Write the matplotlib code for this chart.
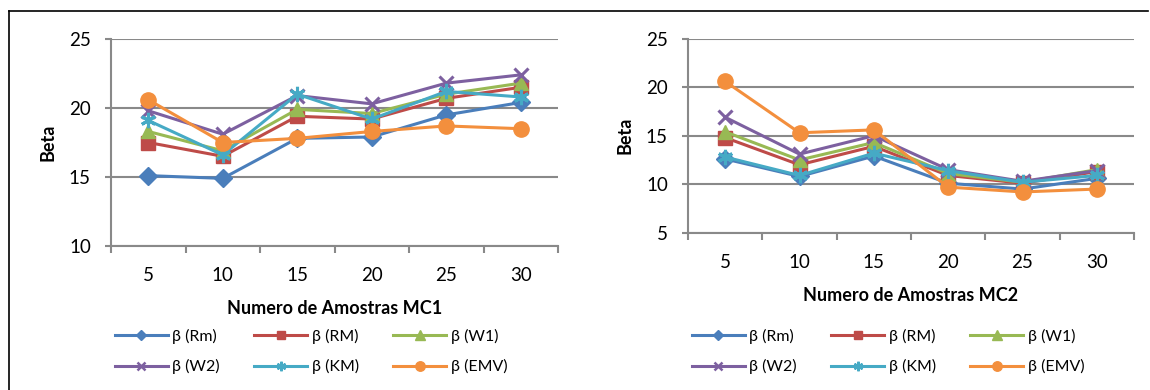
import matplotlib.pyplot as plt
from matplotlib.lines import Line2D

plt.rcParams['font.family'] = ['Lato', 'DejaVu Sans']

amostras = [5, 10, 15, 20, 25, 30]
rotulos = ['β (Rm)', 'β (RM)', 'β (W1)', 'β (W2)', 'β (KM)', 'β (EMV)']

# MC1
rm_mc1 = [15.1, 14.9, 17.8, 17.9, 19.5, 20.4]
RM_mc1 = [17.5, 16.5, 19.4, 19.2, 20.7, 21.5]
w1_mc1 = [18.3, 16.9, 19.9, 19.6, 21.0, 21.8]
w2_mc1 = [19.8, 18.1, 20.9, 20.3, 21.8, 22.4]
km_mc1 = [19.1, 16.6, 21.0, 19.2, 21.2, 20.8]
emv_mc1 = [20.6, 17.5, 17.8, 18.3, 18.7, 18.5]

# MC2
rm_mc2 = [12.6, 10.8, 12.9, 10.1, 9.5, 10.6]
RM_mc2 = [14.8, 12.0, 13.9, 10.9, 10.1, 11.3]
w1_mc2 = [15.4, 12.5, 14.3, 11.1, 10.2, 11.5]
w2_mc2 = [16.9, 13.1, 15.0, 11.5, 10.3, 11.4]
km_mc2 = [12.8, 10.9, 13.2, 11.4, 10.2, 10.9]
emv_mc2 = [20.6, 15.3, 15.6, 9.7, 9.2, 9.5]

cores = ['#4A7EBB', '#BE4B48', '#98B954', '#7D60A0', '#46AAC5', '#F38F3D']
marcadores = ['D', 's', '^', 'x', (6, 2, 0), 'o']
tamanhos = [9, 9.5, 10.5, 10, 11, 11]

W, H = 1150, 390
fig = plt.figure(figsize=(W / 100, H / 100), dpi=100)

grade = '#898989'


def painel(ax, series, ylim, yticks, xlabel):
    pos = list(range(len(amostras)))
    for s, cor, m, ms in zip(series, cores, marcadores, tamanhos):
        ax.plot(pos, s, color=cor, lw=2.2, marker=m, markersize=ms,
                markeredgewidth=2.2 if m in ('x', (6, 2, 0)) else 1,
                markerfacecolor=cor, markeredgecolor=cor, zorder=3)
    ax.set_xlim(-0.5, len(amostras) - 0.5)
    ax.set_ylim(*ylim)
    ax.set_yticks(yticks)
    ax.set_xticks(pos)
    ax.set_xticklabels([str(a) for a in amostras])
    ax.set_xticks([p - 0.5 for p in range(len(amostras) + 1)], minor=True)
    ax.tick_params(axis='x', which='major', length=0, pad=15, labelsize=13.5)
    ax.tick_params(axis='x', which='minor', length=5, width=1.5, color=grade, direction='out')
    ax.tick_params(axis='y', length=4.5, width=1.5, color=grade, pad=10, labelsize=13.5)
    ax.yaxis.grid(True, color=grade, lw=1.5)
    ax.set_axisbelow(True)
    for lado in ('top', 'right'):
        ax.spines[lado].set_visible(False)
    for lado in ('left', 'bottom'):
        ax.spines[lado].set_color(grade)
        ax.spines[lado].set_linewidth(1.5)
    ax.set_ylabel('Beta', fontsize=13, fontweight='bold', labelpad=9)
    ax.set_xlabel(xlabel, fontsize=13, fontweight='bold', labelpad=12)


ax1 = fig.add_axes([111 / W, 1 - 246 / H, 447 / W, 207 / H])
painel(ax1, [rm_mc1, RM_mc1, w1_mc1, w2_mc1, km_mc1, emv_mc1],
       (10, 25), [10, 15, 20, 25], 'Numero de Amostras MC1')

ax2 = fig.add_axes([688 / W, 1 - 232.7 / H, 446 / W, 194 / H])
painel(ax2, [rm_mc2, RM_mc2, w1_mc2, w2_mc2, km_mc2, emv_mc2],
       (5, 25), [5, 10, 15, 20, 25], 'Numero de Amostras MC2')

# legendas com 3 colunas abaixo de cada painel
for ax, x0 in ((ax1, 115), (ax2, 692)):
    handles = [Line2D([], [], color=c, lw=2.2, marker=m, markersize=ms * 0.62,
                      markeredgewidth=1.8 if m in ('x', (6, 2, 0)) else 1,
                      markerfacecolor=c, markeredgecolor=c)
               for c, m, ms in zip(cores, marcadores, tamanhos)]
    ordem = [0, 3, 1, 4, 2, 5]
    ax.legend([handles[i] for i in ordem], [rotulos[i] for i in ordem],
              ncol=3, loc='upper left', frameon=False, fontsize=11.5,
              bbox_to_anchor=(x0 / W, 1 - 329 / H), bbox_transform=fig.transFigure,
              handlelength=3.3, handletextpad=0.3, columnspacing=2.15,
              labelspacing=0.95, borderpad=0, borderaxespad=0)

# moldura
fig.add_artist(Line2D([8.5 / W, 8.5 / W], [0, 1 - 10.5 / H], color='black', lw=1.2))
fig.add_artist(Line2D([8.5 / W, 1148 / W], [1 - 10.5 / H, 1 - 10.5 / H], color='black', lw=1.2))

fig.savefig('out.png', dpi=100)
